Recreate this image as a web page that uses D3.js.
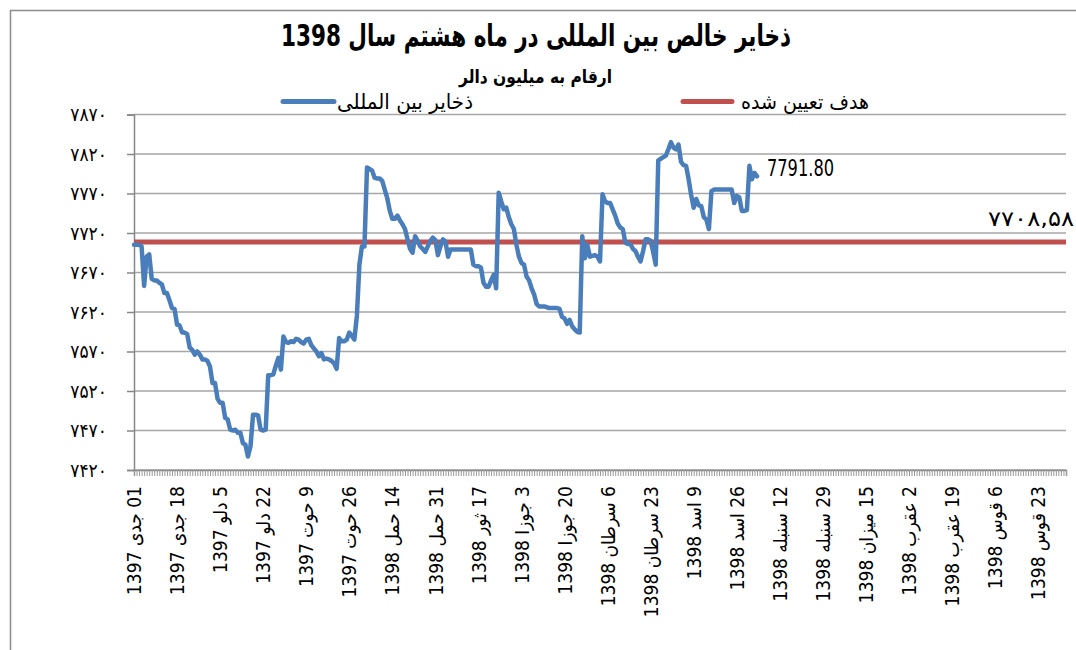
<!DOCTYPE html>
<html><head><meta charset="utf-8">
<script src="https://cdn.jsdelivr.net/npm/d3@7"></script>
<style>
body{margin:0;background:#fff;}
svg{display:block;}
</style></head>
<body>
<svg id="c" width="1076" height="650"></svg>
<script>
// ---- data ----
const monthNames = ["جدی","دلو","حوت","حمل","ثور","جوزا","سرطان","اسد","سنبله","میزان","عقرب","قوس","جدی"];
const monthDays  = [30,30,29,31,31,31,31,31,31,30,30,30,4];
const monthYears = [1397,1397,1397,1398,1398,1398,1398,1398,1398,1398,1398,1398,1398];

const tickLabels = ["01 جدی 1397","18 جدی 1397","5 دلو 1397","22 دلو 1397","9 حوت 1397","26 حوت 1397",
  "14 حمل 1398","31 حمل 1398","17 ثور 1398","3 جوزا 1398","20 جوزا 1398","6 سرطان 1398",
  "23 سرطان 1398","9 اسد 1398","26 اسد 1398","12 سنبله 1398","29 سنبله 1398","15 میزان 1398",
  "2 عقرب 1398","19 عقرب 1398","6 قوس 1398","23 قوس 1398"];

const reserves = [7705,7705,7705,7703,7653,7690,7693,7662,7660,7660,
  7657,7655,7644,7644,7635,7625,7624,7604,7603,7594,
  7594,7592,7575,7572,7566,7570,7566,7560,7560,7558,
  7551,7530,7530,7510,7505,7505,7486,7484,7471,7470,
  7471,7467,7467,7454,7452,7437,7450,7490,7490,7489,
  7471,7470,7471,7540,7540,7541,7552,7562,7547,7589,
  7582,7581,7583,7582,7586,7585,7582,7580,7585,7586,
  7578,7574,7570,7564,7568,7560,7561,7560,7558,7555,
  7548,7587,7583,7583,7585,7594,7590,7585,7615,7680,
  7703,7703,7803,7801,7799,7790,7789,7789,7786,7775,
  7764,7748,7738,7738,7742,7736,7731,7725,7712,7700,
  7695,7716,7710,7703,7700,7696,7703,7710,7714,7711,
  7692,7703,7712,7709,7690,7699,7699,7699,7699,7699,
  7699,7699,7699,7699,7680,7678,7678,7676,7657,7652,
  7652,7660,7667,7650,7771,7760,7750,7752,7740,7731,
  7725,7705,7690,7682,7680,7665,7660,7650,7642,7630,
  7627,7627,7627,7626,7625,7625,7625,7625,7624,7614,
  7612,7605,7610,7602,7598,7595,7594,7716,7688,7705,
  7690,7691,7692,7690,7684,7769,7760,7758,7758,7750,
  7742,7732,7727,7725,7708,7706,7706,7700,7697,7690,
  7684,7697,7712,7712,7710,7696,7680,7812,7814,7816,
  7818,7826,7835,7828,7826,7832,7810,7806,7805,7788,
  7768,7752,7763,7755,7754,7740,7737,7725,7773,7775,
  7775,7775,7775,7775,7775,7775,7775,7758,7767,7765,
  7748,7748,7749,7805,7788,7796,7791.80];

const target = 7708.58;
const yTicks = [7420,7470,7520,7570,7620,7670,7720,7770,7820,7870];

const titleText = "ذخایر خالص بین المللی در ماه هشتم  سال 1398";
const subtitleText = "ارقام به میلیون دالر";
const seriesNames = ["ذخایر بین المللی","هدف تعیین شده"];
const colors = ["#4a7ebb","#c0504d"];

// categories (one per day)
const categories = [];
monthNames.forEach((m, k) => {
  for (let d = 1; d <= monthDays[k]; d++) categories.push(d + " " + m + " " + monthYears[k]);
});

// ---- drawing ----
const svg = d3.select("#c");
const L = 134, R = 1066, T = 114.5, B = 470;
const fa = s => String(s).replace(/[0-9]/g, c => "۰۱۲۳۴۵۶۷۸۹"[+c]);
const FONT = "'Liberation Sans Narrow','DejaVu Sans Condensed','DejaVu Sans',sans-serif";

const x = d3.scalePoint().domain(d3.range(categories.length)).range([L, R]);
const y = d3.scaleLinear().domain([7420, 7870]).range([B, T]);

// frame
svg.append("line").attr("x1",10).attr("x2",1076).attr("y1",10.5).attr("y2",10.5).attr("stroke","#8c8c8c").attr("stroke-width",1.5);
svg.append("line").attr("x1",10.5).attr("x2",10.5).attr("y1",10).attr("y2",650).attr("stroke","#8c8c8c").attr("stroke-width",1.5);

// grid
svg.append("g").selectAll("line").data(yTicks).join("line")
  .attr("x1", L).attr("x2", R).attr("y1", d => y(d)).attr("y2", d => y(d))
  .attr("stroke", "#a6a6a6").attr("stroke-width", 1.5);

// y axis
const yAxis = svg.append("g").attr("transform", `translate(${L},0)`)
  .call(d3.axisLeft(y).tickValues(yTicks).tickSize(7).tickFormat(d => fa(d)));
yAxis.select(".domain").attr("stroke", "#868686").attr("stroke-width", 1.5);
yAxis.selectAll(".tick line").attr("stroke", "#868686").attr("stroke-width", 1.5);
yAxis.selectAll(".tick text").attr("x", -27).attr("font-family", FONT).attr("font-size", 19)
  .attr("letter-spacing", 1).attr("fill", "#000");

// x axis
const xAxis = svg.append("g").attr("transform", `translate(0,${B})`)
  .call(d3.axisBottom(x).tickSize(6).tickFormat(i => i % 17 === 0 ? (tickLabels[i / 17] || "") : ""));
xAxis.select(".domain").attr("stroke", "#868686").attr("stroke-width", 1.5);
xAxis.selectAll(".tick line").attr("stroke", "#9a9a9a").attr("stroke-width", 1);
xAxis.selectAll(".tick text")
  .text(function(){ const t = d3.select(this).text(); return t ? "\u202B" + t + "\u202C" : ""; })
  .attr("font-family", FONT).attr("font-size", 19).attr("fill", "#000")
  .attr("text-anchor", "end").attr("transform", "rotate(-90)")
  .attr("x", -16).attr("y", 0).attr("dy", "0.35em");

// target line
svg.append("path")
  .attr("d", d3.line()([[x(0), y(target)], [x(categories.length - 1), y(target)]]))
  .attr("stroke", colors[1]).attr("stroke-width", 5).attr("fill", "none");

// reserves line
svg.append("path").datum(reserves)
  .attr("d", d3.line().x((d, i) => x(i)).y(d => y(d)))
  .attr("stroke", colors[0]).attr("stroke-width", 4.5).attr("fill", "none")
  .attr("stroke-linejoin", "round").attr("stroke-linecap", "round");

// value labels
const lastI = reserves.length - 1;
svg.append("text").attr("x", 767).attr("y", 176)
  .attr("font-family", FONT).attr("font-size", 23)
  .attr("textLength", 67).attr("lengthAdjust", "spacingAndGlyphs")
  .text(reserves[lastI].toFixed(2));
svg.append("text").attr("x", 988).attr("y", 226)
  .attr("font-family", FONT).attr("font-size", 21)
  .attr("textLength", 86).attr("lengthAdjust", "spacingAndGlyphs")
  .text(fa("7708,58"));

// title
svg.append("text").attr("x", 281).attr("y", 46)
  .attr("font-family", FONT).attr("font-weight", "bold").attr("font-size", 30)
  .attr("textLength", 510).attr("lengthAdjust", "spacingAndGlyphs")
  .text("\u202B" + titleText + "\u202C");
svg.append("text").attr("x", 459).attr("y", 83)
  .attr("font-family", FONT).attr("font-weight", "bold").attr("font-size", 18)
  .attr("textLength", 153).attr("lengthAdjust", "spacingAndGlyphs")
  .text("\u202B" + subtitleText + "\u202C");

// legend
const leg = [{lx1:283, lx2:334, tx:337, tl:136, name:seriesNames[0], c:colors[0]},
             {lx1:683, lx2:732, tx:741, tl:128, name:seriesNames[1], c:colors[1]}];
leg.forEach(l => {
  svg.append("line").attr("x1", l.lx1).attr("x2", l.lx2).attr("y1", 101.5).attr("y2", 101.5)
    .attr("stroke", l.c).attr("stroke-width", 5).attr("stroke-linecap","round");
  svg.append("text").attr("x", l.tx).attr("y", 109).attr("font-family", FONT)
    .attr("font-size", 21).attr("textLength", l.tl).attr("lengthAdjust", "spacingAndGlyphs")
    .text("\u202B" + l.name + "\u202C");
});
</script>
</body></html>
